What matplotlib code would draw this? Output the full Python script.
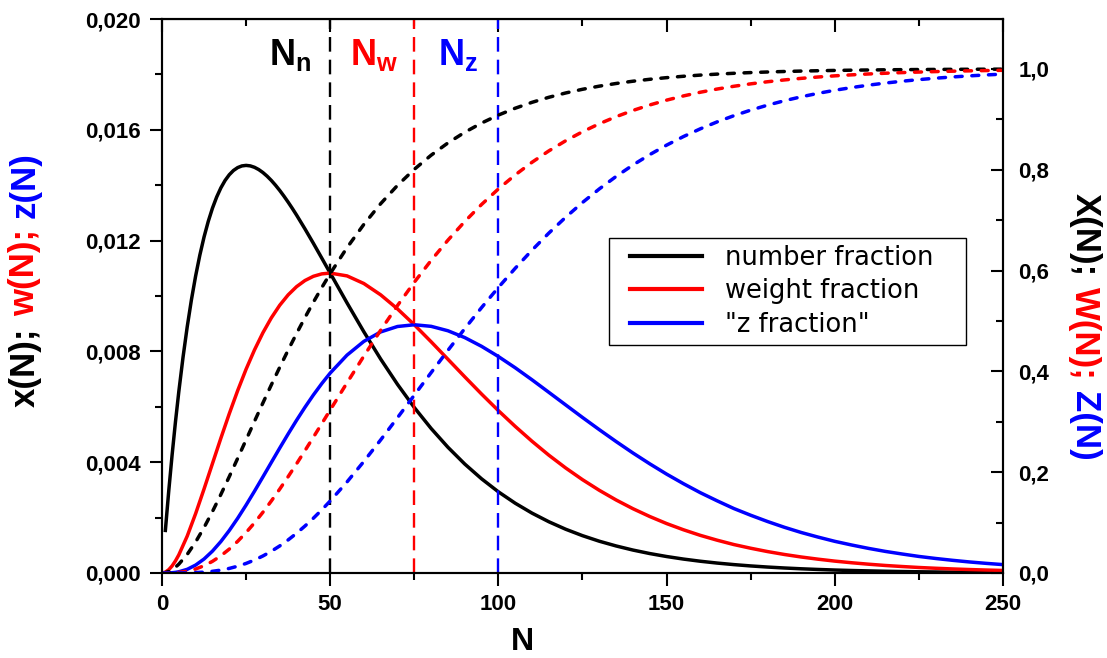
import numpy as np
import matplotlib
matplotlib.use('Agg')
import matplotlib.pyplot as plt
from matplotlib.ticker import MultipleLocator, FuncFormatter
from matplotlib.legend_handler import HandlerLine2D
from matplotlib.lines import Line2D

plt.rcParams['font.family'] = ['Liberation Sans', 'DejaVu Sans']
plt.rcParams['mathtext.fontset'] = 'custom'
plt.rcParams['mathtext.rm'] = 'Liberation Sans'
plt.rcParams['mathtext.bf'] = 'Liberation Sans:bold'

# chain length N
N = [0, 1, 2, 3, 4, 5, 7.5, 10, 12.5, 15, 17.5, 20, 22.5, 25, 27.5, 30, 32.5, 35,
     37.5, 40, 42.5, 45, 47.5, 50, 55, 60, 65, 70, 75, 80, 85, 90, 95, 100,
     105, 110, 115, 120, 125, 130, 135, 140, 145, 150, 155, 160, 165, 170, 175,
     180, 185, 190, 195, 200, 205, 210, 215, 220, 225, 230, 235, 240, 245, 250]

# the number fraction is read more densely around its sharp peak
N_x = [1, 2, 3, 4, 5, 6.25, 7.5, 8.75, 10, 11.25, 12.5, 13.75, 15, 16.25, 17.5, 18.75,
       20, 21.25, 22.5, 23.75, 25, 26.25, 27.5, 28.75, 30, 31.25, 32.5, 33.75, 35,
       36.25, 37.5, 38.75, 40, 42.5, 45, 47.5, 50, 55, 60, 65, 70, 75, 80, 85, 90, 95,
       100, 105, 110, 115, 120, 125, 130, 135, 140, 145, 150, 155, 160, 165, 170, 175,
       180, 185, 190, 195, 200, 205, 210, 215, 220, 225, 230, 235, 240, 245, 250]

# number fraction x(N)
x_N = [0.001537, 0.002954, 0.004257, 0.005454, 0.006550, 0.007788, 0.008890, 0.009866,
       0.010725, 0.011477, 0.012131, 0.012693, 0.013172, 0.013573, 0.013904, 0.014171,
       0.014378, 0.014532, 0.014636, 0.014696, 0.014715, 0.014697, 0.014646, 0.014565,
       0.014457, 0.014325, 0.014172, 0.013999, 0.013810, 0.013605, 0.013388, 0.013160,
       0.012922, 0.012422, 0.011902, 0.011367, 0.010827,
       0.009751, 0.008709, 0.007724, 0.006811, 0.005974, 0.005218, 0.004539, 0.003934,
       0.003400, 0.002930, 0.002519, 0.002161, 0.001850, 0.001580, 0.001348, 0.001147,
       0.000976, 0.000828, 0.000702, 0.000595, 0.000503, 0.000425, 0.000359, 0.000303,
       0.000255, 0.000215, 0.000181, 0.000152, 0.000128, 0.000107, 0.000090, 0.000076,
       0.000063, 0.000053, 0.000044, 0.000037, 0.000031, 0.000026, 0.000022, 0.000018]

# weight fraction w(N)
w_N = [0, 0.000031, 0.000118, 0.000255, 0.000436, 0.000655, 0.001333, 0.002145,
       0.003033, 0.003951, 0.004867, 0.005751, 0.006586, 0.007358, 0.008055, 0.008674,
       0.009211, 0.009667, 0.010041, 0.010337, 0.010559, 0.010711, 0.010799, 0.010827,
       0.010726, 0.010451, 0.010042, 0.009535, 0.008962, 0.008348, 0.007716, 0.007082,
       0.006460, 0.005861, 0.005292, 0.004755, 0.004253, 0.003792, 0.003369, 0.002985,
       0.002636, 0.002321, 0.002039, 0.001785, 0.001561, 0.001360, 0.001185, 0.001027,
       0.000894, 0.000774, 0.000669, 0.000578, 0.000499, 0.000429, 0.000370, 0.000318,
       0.000272, 0.000234, 0.000199, 0.000171, 0.000146, 0.000125, 0.000107, 0.000091]

# "z fraction" z(N)
z_N = [0, 0.0000004, 0.000003, 0.000010, 0.000023, 0.000044, 0.000133, 0.000286,
       0.000505, 0.000790, 0.001136, 0.001534, 0.001976, 0.002453, 0.002954, 0.003470,
       0.003992, 0.004511, 0.005020, 0.005513, 0.005983, 0.006427, 0.006839, 0.007218,
       0.007866, 0.008361, 0.008703, 0.008899, 0.008962, 0.008905, 0.008745, 0.008499,
       0.008183, 0.007815, 0.007409, 0.006974, 0.006522, 0.006068, 0.005615, 0.005174,
       0.004745, 0.004332, 0.003941, 0.003570, 0.003225, 0.002901, 0.002607, 0.002327,
       0.002085, 0.001859, 0.001651, 0.001463, 0.001297, 0.001143, 0.001011, 0.000889,
       0.000780, 0.000686, 0.000598, 0.000524, 0.000458, 0.000399, 0.000348, 0.000303]

# cumulative fractions X(N), W(N), Z(N) (right axis)
X_cum = [0, 0.00078, 0.00303, 0.00665, 0.01152, 0.01753, 0.03693, 0.06155, 0.09020,
         0.12190, 0.15580, 0.19121, 0.22752, 0.26424, 0.30097, 0.33738, 0.37318, 0.40816,
         0.44217, 0.47506, 0.50676, 0.53716, 0.56625, 0.59399, 0.64543, 0.69156, 0.73262,
         0.76892, 0.80085, 0.82880, 0.85316, 0.87432, 0.89262, 0.90842, 0.92202, 0.93370,
         0.94371, 0.95227, 0.95957, 0.96580, 0.97109, 0.97559, 0.97941, 0.98265, 0.98539,
         0.98770, 0.98966, 0.99131, 0.99271, 0.99388, 0.99487, 0.99570, 0.99639, 0.99698,
         0.99747, 0.99789, 0.99823, 0.99852, 0.99877, 0.99897, 0.99914, 0.99928, 0.99940,
         0.99950]

W_cum = [0, 0.00001, 0.00008, 0.00026, 0.00061, 0.00115, 0.00359, 0.00793, 0.01439,
         0.02312, 0.03414, 0.04743, 0.06286, 0.08030, 0.09959, 0.12053, 0.14290, 0.16649,
         0.19115, 0.21663, 0.24279, 0.26938, 0.29628, 0.32332, 0.37728, 0.43029, 0.48158,
         0.53055, 0.57681, 0.62010, 0.66027, 0.69727, 0.73111, 0.76190, 0.78972, 0.81483,
         0.83738, 0.85746, 0.87535, 0.89121, 0.90524, 0.91761, 0.92849, 0.93803, 0.94638,
         0.95367, 0.96003, 0.96556, 0.97036, 0.97453, 0.97813, 0.98124, 0.98393, 0.98625,
         0.98824, 0.98995, 0.99142, 0.99269, 0.99377, 0.99469, 0.99548, 0.99616, 0.99674,
         0.99723]

Z_cum = [0, 0.0, 0.000002, 0.000008, 0.000024, 0.000056, 0.00026, 0.00078, 0.00175,
         0.00336, 0.00575, 0.00908, 0.01346, 0.01899, 0.02574, 0.03378, 0.04311, 0.05371,
         0.06564, 0.07880, 0.09320, 0.10870, 0.12530, 0.14287, 0.18064, 0.22127, 0.26401,
         0.30806, 0.35277, 0.39749, 0.44165, 0.48480, 0.52653, 0.56653, 0.60450, 0.64049,
         0.67434, 0.70576, 0.73497, 0.76193, 0.78671, 0.80938, 0.83003, 0.84879, 0.86577,
         0.88108, 0.89485, 0.90719, 0.91824, 0.92808, 0.93685, 0.94463, 0.95152, 0.95762,
         0.96300, 0.96774, 0.97191, 0.97557, 0.97877, 0.98158, 0.98403, 0.98617, 0.98804,
         0.98966]

# averages Nn, Nw, Nz
averages = [50, 75, 100]
avg_names = [r'$\mathbf{N_n}$', r'$\mathbf{N_w}$', r'$\mathbf{N_z}$']
labels = ['number fraction', 'weight fraction', '"z fraction"']
colors = ['black', 'red', 'blue']

fig = plt.figure(figsize=(11.07, 6.58), dpi=100)
ax = fig.add_axes([0.14634, 0.12918, 0.75971, 0.84194])
ax2 = ax.twinx()

lw = 2.5
dash = (0, (2.0, 2.8))
handles = []
for xs, dens, cum, c, lab in zip([N_x, N, N], [x_N, w_N, z_N], [X_cum, W_cum, Z_cum],
                                 colors, labels):
    h, = ax.plot(xs, dens, color=c, lw=lw, label=lab, solid_joinstyle='round')
    handles.append(h)
    ax2.plot(N, cum, color=c, lw=lw, linestyle=dash, dash_capstyle='round')

for n, c, name in zip(averages, colors, avg_names):
    ax.axvline(n, color=c, lw=1.7, linestyle=(0, (6.2, 3.4)))
    ax.text(n - 12, 0.0187, name, color=c, fontsize=26, ha='center', va='center')

ax.set_xlim(0, 250)
ax.set_ylim(0, 0.020)
ax2.set_ylim(0, 1.099)

ax.xaxis.set_major_locator(MultipleLocator(50))
ax.xaxis.set_minor_locator(MultipleLocator(25))
ax.yaxis.set_major_locator(MultipleLocator(0.004))
ax.yaxis.set_minor_locator(MultipleLocator(0.002))
ax2.yaxis.set_major_locator(MultipleLocator(0.2))
ax2.yaxis.set_minor_locator(MultipleLocator(0.1))
ax.yaxis.set_major_formatter(FuncFormatter(lambda v, p: f'{v:.3f}'.replace('.', ',')))
ax2.yaxis.set_major_formatter(FuncFormatter(lambda v, p: f'{v:.1f}'.replace('.', ',')))

ax.tick_params(axis='both', which='major', direction='out', length=9, width=1.5, pad=6, labelsize=16)
ax.tick_params(axis='both', which='minor', direction='out', length=5, width=1.5)
ax2.tick_params(axis='y', which='major', direction='in', length=9, width=1.5, pad=11, labelsize=16)
ax2.tick_params(axis='y', which='minor', direction='in', length=5, width=1.5)
for lbl in ax.get_xticklabels() + ax.get_yticklabels() + ax2.get_yticklabels():
    lbl.set_fontweight('bold')

top = ax.secondary_xaxis('top')
top.xaxis.set_major_locator(MultipleLocator(50))
top.xaxis.set_minor_locator(MultipleLocator(25))
top.tick_params(which='major', direction='in', length=9, width=1.5, labeltop=False)
top.tick_params(which='minor', direction='in', length=5, width=1.5)

for a in [ax, ax2]:
    for s in a.spines.values():
        s.set_linewidth(1.5)

# x title sits left of centre in the original
ax.set_xlabel('N', fontsize=23, fontweight='bold', va='center')
ax.xaxis.set_label_coords(0.428, -0.124)

# multi-coloured axis titles
lab_kw = dict(fontsize=25, fontweight='bold', ha='center')
t1 = fig.text(0.0226, 0.3815, 'x(N);', rotation=90, va='bottom', color='black', **lab_kw)
t2 = ax.annotate('w(N);', xy=(0.5, 1), xycoords=t1, xytext=(0, 8), textcoords='offset points',
                 rotation=90, va='bottom', color='red', **lab_kw)
ax.annotate('z(N)', xy=(0.5, 1), xycoords=t2, xytext=(0, 8), textcoords='offset points',
            rotation=90, va='bottom', color='blue', **lab_kw)

r1 = fig.text(0.980, 0.7067, 'X(N);', rotation=270, va='top', color='black', **lab_kw)
r2 = ax.annotate('W(N);', xy=(0.5, 0), xycoords=r1, xytext=(0, -8), textcoords='offset points',
                 rotation=270, va='top', color='red', **lab_kw)
ax.annotate('Z(N)', xy=(0.5, 0), xycoords=r2, xytext=(0, -8), textcoords='offset points',
            rotation=270, va='top', color='blue', **lab_kw)

leg = ax2.legend(handles=handles, loc='upper left',
                 bbox_to_anchor=(0.5501, 0.6383, 0.3225, 0.0),
                 bbox_transform=fig.transFigure, mode='expand', borderaxespad=0,
                 fancybox=False, framealpha=1, edgecolor='black',
                 handlelength=3.35, handletextpad=0.9, labelspacing=0.29, borderpad=0.27,
                 handler_map={Line2D: HandlerLine2D(xpad=0.545)},
                 prop={'family': 'DejaVu Sans', 'size': 18.5})
leg.get_frame().set_linewidth(1.0)
for line in leg.get_lines():
    line.set_linewidth(3)

fig.savefig('out.png', dpi=100)
